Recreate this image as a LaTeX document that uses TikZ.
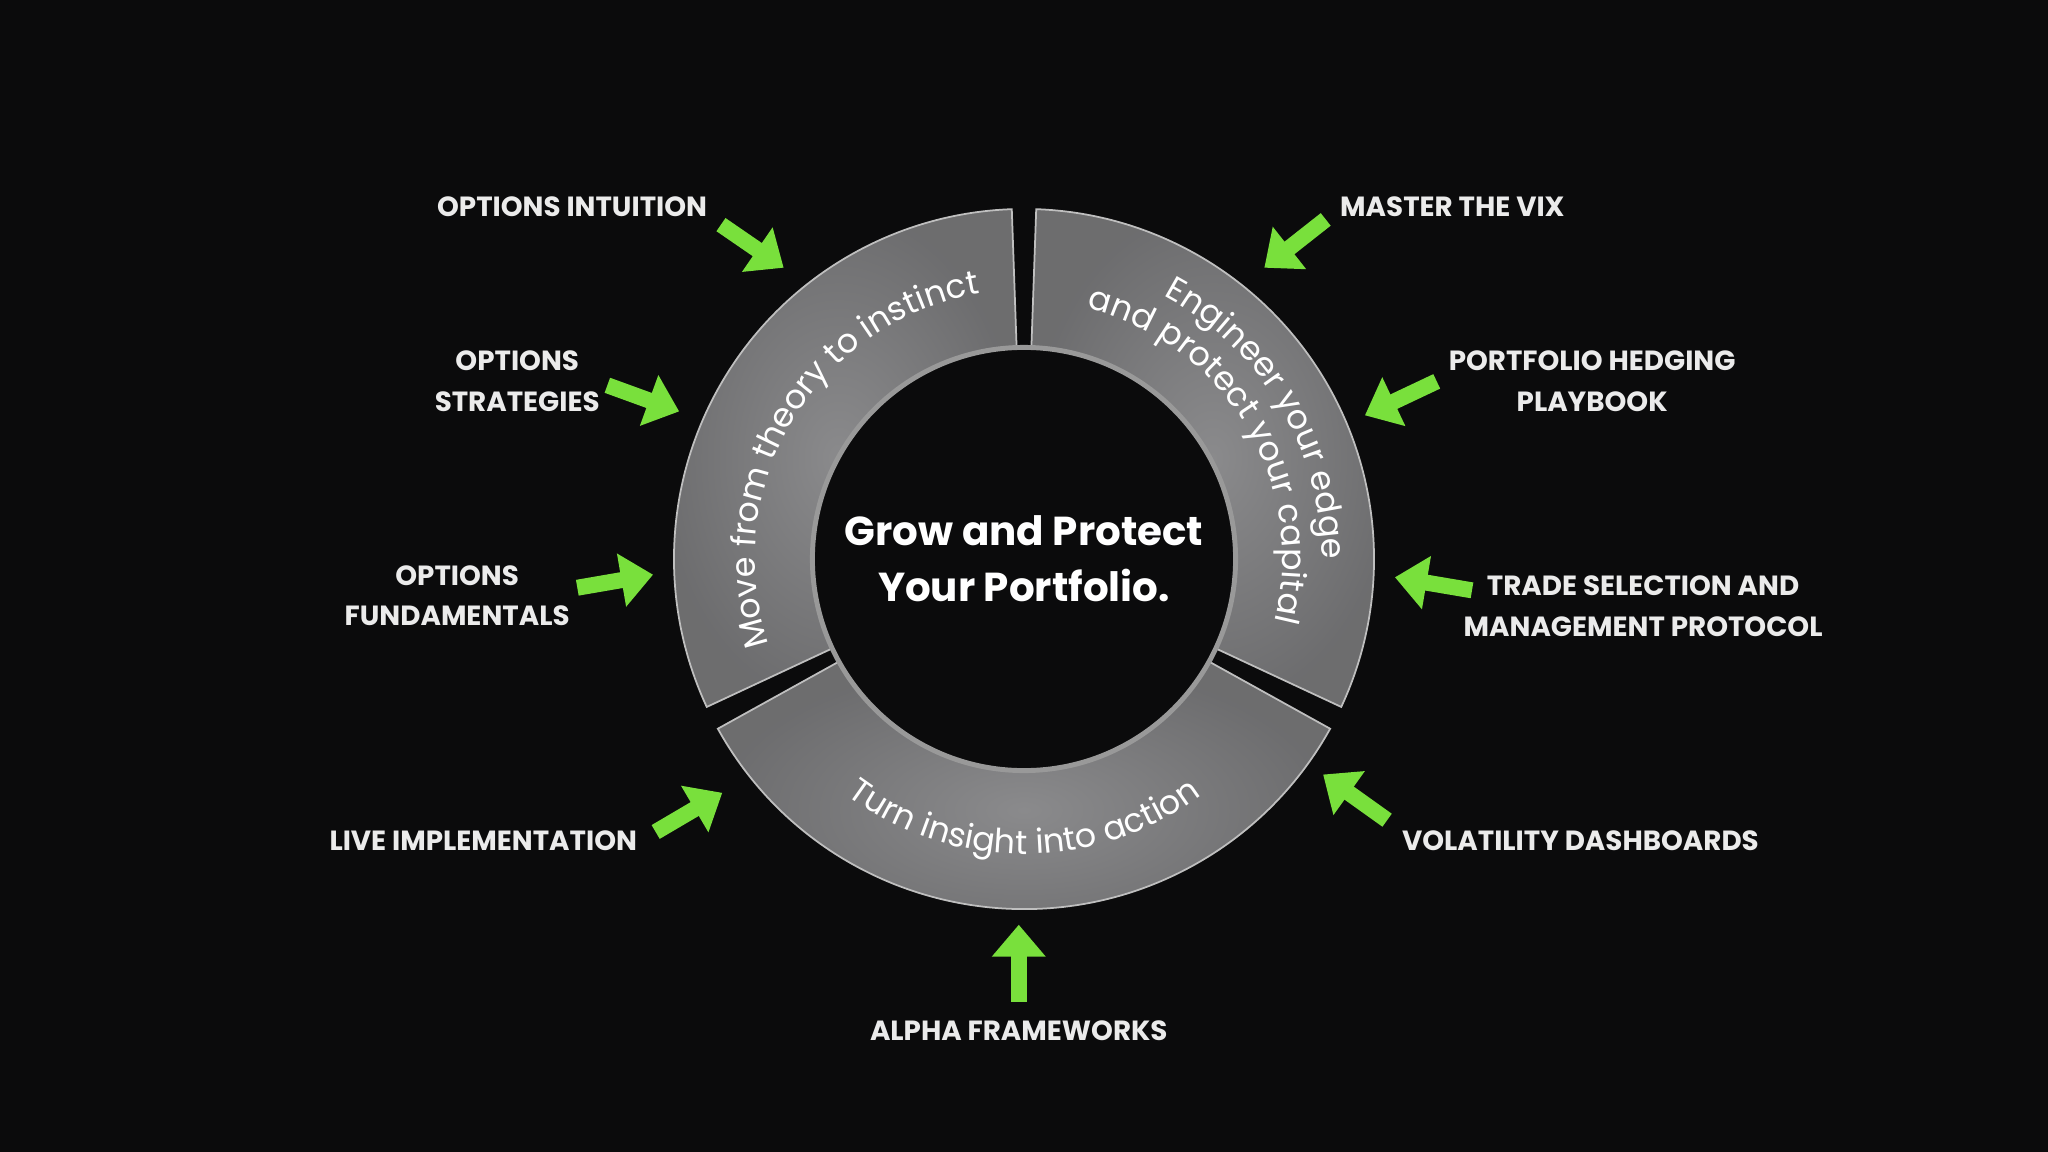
\documentclass[tikz,border=0pt]{standalone}
\usepackage{fontspec}
\setmainfont{Poppins}
\usetikzlibrary{decorations.text,arrows.meta}
\definecolor{bgdark}{HTML}{0B0B0C}
\definecolor{arrowgreen}{HTML}{79E03C}
\definecolor{ringgray}{HTML}{808082}

\tikzset{
  topic/.style={text=white!92!black, font=\fontsize{7.9}{11.5}\selectfont\bfseries, align=center},
  pointer/.style={arrowgreen, line width=1.6mm, -{Triangle[length=3.2mm,width=5.2mm]}},
  segment/.style={draw=white!75!black, line width=0.5pt, inner color=ringgray!92!white, outer color=ringgray!85!black},
  ringtext/.style={decorate, decoration={text along path, text align=center, text color=white}}
}

\begin{document}
\begin{tikzpicture}[x=0.01306cm, y=0.01306cm]
  \fill[bgdark] (0,0) rectangle (1568,882);
  \useasboundingbox (0,0) rectangle (1568,882);
  \coordinate (c) at (784,454);

  % ring segments
  \foreach \a/\b in {92/205, -25/88, 209/331}
    \fill[segment, shift={(c)}] (\a:268) arc (\a:\b:268) -- (\b:162) arc (\b:\a:162) -- cycle;
  \draw[white!60!black, line width=1.4pt] (c) circle (162);

  % ring texts
  \path[ringtext, decoration={text={|\fontsize{9.5}{12}\selectfont|Move from theory to instinct}}]
    ([shift={(210:206)}]c) arc (210:88:206);
  \path[ringtext, decoration={text={|\fontsize{9.5}{12}\selectfont|Engineer your edge}}]
    ([shift={(70:228)}]c) arc (70:-8:228);
  \path[ringtext, decoration={text={|\fontsize{9.5}{12}\selectfont|and protect your capital}}]
    ([shift={(84:198)}]c) arc (84:-22:198);
  \path[ringtext, decoration={text={|\fontsize{9.5}{12}\selectfont|Turn insight into action}}]
    ([shift={(226:226)}]c) arc (226:314:226);

  \node[text=white, font=\fontsize{11.5}{16}\selectfont\bfseries, align=center] (core) at (c) {Grow and Protect\\Your Portfolio.};

  % topics
  \node[topic] (intuition) at (438,724) {OPTIONS INTUITION};
  \node[topic] (strategies) at (396,590) {OPTIONS\\STRATEGIES};
  \node[topic] (fundamentals) at (350,426) {OPTIONS\\FUNDAMENTALS};
  \node[topic] (live) at (370,238) {LIVE IMPLEMENTATION};
  \node[topic] (alpha) at (780,93) {ALPHA FRAMEWORKS};
  \node[topic] (volatility) at (1210,238) {VOLATILITY DASHBOARDS};
  \node[topic] (trade) at (1258,418) {TRADE SELECTION AND\\MANAGEMENT PROTOCOL};
  \node[topic] (hedging) at (1219,590) {PORTFOLIO HEDGING\\PLAYBOOK};
  \node[topic] (vix) at (1112,724) {MASTER THE VIX};

  % arrow ends
  \foreach \n/\tx/\ty/\hx/\hy in {intuition/552/710/600/677, strategies/465/587/520/567,
      fundamentals/442/432/500/442, live/502/245/553/275, alpha/780/115/780/174,
      volatility/1062/254/1013/289, trade/1127/430/1068/440, hedging/1100/590/1045/564,
      vix/1015/714/968/677}{
    \coordinate (\n-tail) at (\tx,\ty);
    \coordinate (\n-head) at (\hx,\hy);
    \draw[pointer] (\n-tail) -- (\n-head);
  }
\end{tikzpicture}
\end{document}
